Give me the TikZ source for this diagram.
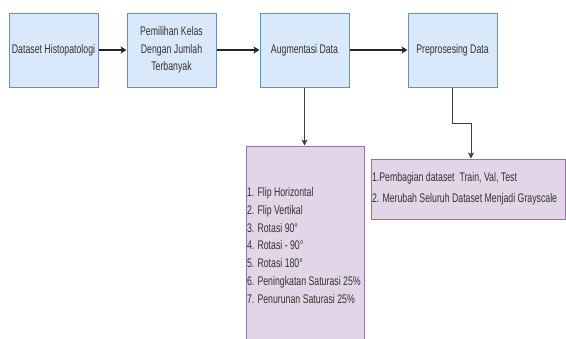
\documentclass[tikz,border=0pt]{standalone}
\usepackage{fontspec}
\setmainfont{Liberation Sans}[FakeStretch=0.7]
\usetikzlibrary{arrows.meta,positioning,shapes}
\definecolor{stepfill}{HTML}{DAE8FC}
\definecolor{stepline}{HTML}{6C8EBF}
\definecolor{notefill}{HTML}{E1D5E7}
\definecolor{noteline}{HTML}{9673A6}
\definecolor{txt}{HTML}{333333}

\begin{document}
\begin{tikzpicture}[x=1pt,y=-1pt,
  stepbox/.style={draw=stepline,fill=stepfill,line width=1pt,minimum width=89pt,minimum height=74pt,inner sep=1pt,align=center,text=txt,font=\fontsize{12.5}{17.5}\selectfont},
  notebox/.style={draw=noteline,fill=notefill,line width=1pt,inner xsep=1pt,align=flush left,text=txt},
  flow/.style={-{Stealth[length=6pt,width=7pt,inset=1.5pt]},line width=1.5pt,draw=black!85},
  drop/.style={-{Stealth[length=6pt,width=6pt,inset=1.5pt]},line width=1pt,draw=black!75}]
\useasboundingbox (0,0) rectangle (566,338);
\node[stepbox] (n1) at (53.5,50) {Dataset Histopatologi};
\node[stepbox] (n2) at (171.5,50) {Pemilihan Kelas\\Dengan Jumlah\\Terbanyak};
\node[stepbox] (n3) at (304.5,50) {Augmentasi Data};
\node[stepbox] (n4) at (452.5,50) {Preprosesing Data};
\node[notebox,text width=116pt,minimum height=199pt,font=\fontsize{12.5}{17.8}\selectfont] (n5) at (305,245.5) {1. Flip Horizontal\\2. Flip Vertikal\\3. Rotasi 90°\\4. Rotasi - 90°\\5. Rotasi 180°\\6. Peningkatan Saturasi 25\%\\7. Penurunan Saturasi 25\%};
\node[notebox,text width=192pt,minimum height=60pt,font=\fontsize{12.5}{21}\selectfont] (n6) at (468,189) {1.Pembagian dataset\ \ Train, Val, Test\\2. Merubah Seluruh Dataset Menjadi Grayscale};
\coordinate (k) at (471,123);
\draw[flow] (n1) -- (n2);
\draw[flow] (n2) -- (n3);
\draw[flow] (n3) -- (n4);
\draw[drop] (n3.south) -- (n5.north -| n3.south);
\draw[drop] (n4.south) |- (k) -- (k |- n6.north);
\end{tikzpicture}
\end{document}
